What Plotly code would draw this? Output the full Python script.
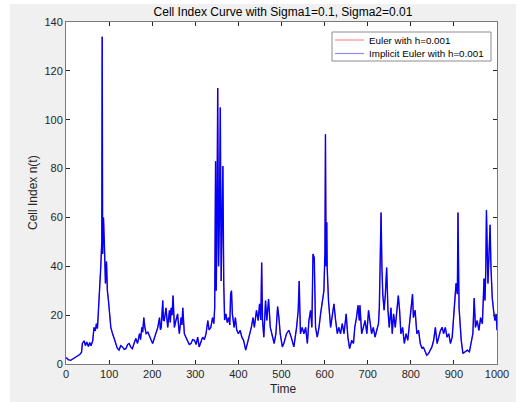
import plotly.graph_objects as go

title_text = "Cell Index Curve with Sigma1=0.1, Sigma2=0.01"
x_label = "Time"
y_label = "Cell Index n(t)"
series_names = ["Euler with h=0.001", "Implicit Euler with h=0.001"]

time = [0, 5, 11, 20, 27, 32, 36, 38, 42, 45, 48, 52, 55, 58, 62, 65, 68, 70.5, 73, 75, 78, 80.6, 83, 84, 85, 87, 89, 91.5, 94, 96, 98.5,
        101, 104, 107, 110, 113, 115.5, 119, 123, 127, 131, 135, 139, 143, 146.5, 150, 154, 158, 162, 166, 170.5, 173, 176, 178, 180.5,
        183, 186, 190, 193.7, 197, 201, 204, 207, 210, 213, 217, 219, 221, 224.5, 226, 228, 232, 234, 236, 240, 242, 244, 246, 248.4,
        250, 251.5, 255, 259, 261, 263, 267, 269, 271, 273, 274.6, 278, 282, 286, 290, 294, 298, 302, 305.5, 309, 313, 317, 321, 325,
        329, 332, 336, 340, 343, 345, 347, 348.5, 350, 352, 354, 356, 358, 360, 362, 364, 366, 368, 371, 374, 377, 380, 382, 384, 386,
        390, 393, 396, 400, 404, 408, 412, 417, 421, 426, 430, 434, 437, 442, 446, 449, 452, 454, 456, 459, 463, 466, 470, 474, 478,
        483, 487, 491, 494, 497, 502, 505.4, 511.6, 517, 522.5, 528.7, 535, 538.8, 541, 544, 548, 552, 556, 560, 563.6, 567.4, 570.5,
        573, 576, 579, 583, 587, 590.7, 594.6, 598.4, 600.8, 602, 603.5, 605, 606, 609, 614, 618, 621.7, 625.6, 629.5, 633, 637, 641,
        645, 650, 654, 658, 663, 667, 670, 674, 677.5, 680.6, 682, 686, 690, 694, 698, 702, 705, 709, 713, 717, 721, 725, 727, 729,
        731, 733, 735, 738, 741, 744, 747, 750, 754, 757, 760, 764, 767, 771, 774, 777, 781, 785, 789, 793, 797, 801, 804, 806, 810,
        814, 818, 822, 826, 829, 833, 837, 841, 845, 849, 853, 857, 861, 865, 869, 873, 876, 880, 884, 888, 892, 896, 900, 903, 905,
        908, 909.5, 912, 914, 917, 921, 926, 931, 936, 940, 944, 947, 950, 954, 958, 962, 966, 970, 972, 974, 975.5, 979, 981, 984,
        986, 989, 992, 995, 998, 1000]

cell_index = [2.7, 1.8, 1.5, 2.5, 3.2, 3.9, 4.8, 8.4, 9.5, 7.5, 9.0, 7.2, 8.8, 7.5, 9.5, 15, 13.5, 16.5, 14.5, 20.5, 28.6, 39.5, 50, 134, 45, 60, 49, 33, 42, 30, 26,
              20.5, 15, 13, 11, 9.5, 8.4, 6.5, 5.7, 7.5, 7, 6, 6.3, 8, 8.4, 7, 6.3, 8.5, 10.4, 8.4, 12.4, 10, 15, 13, 19,
              15, 12.4, 13, 11, 10, 8.4, 10, 11, 13, 15, 19, 14, 15, 26, 18, 17.8, 23, 16, 15, 22, 17, 23, 20, 28,
              18, 15, 17.8, 20.5, 16, 12.4, 19, 16, 23, 18, 12.4, 11, 9.7, 8, 8.4, 10, 9.7, 8, 11, 7, 9, 11, 10, 12.4,
              17.8, 14, 15, 19, 16.5, 23, 83, 30, 50, 113, 40, 60, 105, 34, 58, 81, 33, 18, 20.5, 17, 19, 16, 28.6, 30, 20.5,
              15, 19, 14, 12.4, 13.8, 11, 9.7, 5.7, 8.4, 12.4, 15, 19, 15, 22, 17.8, 24.6, 18, 41.5, 17.8, 11, 26, 17.8, 26.6, 15, 12.4,
              8.4, 12.4, 23.5, 19, 12.4, 7, 8.4, 12.4, 13.8, 11, 7, 15, 22, 34, 12.4, 15, 12.4, 15, 8.4, 17.8, 22, 15,
              45, 43.5, 15, 11, 15, 20.5, 26, 30, 46, 94, 40, 58, 39.5, 26, 15, 20.5, 24.6, 17.8, 12.4, 15, 12.4, 16.5,
              12.4, 20.5, 11, 6.3, 9.7, 8.4, 15, 19, 24, 17.8, 24, 12.4, 15, 17.8, 12.4, 22, 17.8, 12.4, 15, 11, 13.8, 16.5, 23, 42,
              62, 39.5, 28.6, 22, 28.6, 39.5, 22, 15, 23, 12.4, 20.5, 15, 22, 28, 22, 12.4, 15, 8.4, 12.4, 9.7, 16.5, 23, 28.6, 19, 22,
              12.4, 13.8, 8.4, 6.3, 7, 5, 3.6, 4.3, 5.7, 7, 9.7, 15, 8.4, 11, 13.8, 15, 12.4, 15, 11, 12.4, 8.4, 11, 20.5, 30, 33,
              28.6, 62, 23, 15, 9.7, 4.3, 5, 5.7, 5, 9.7, 12.4, 27, 15, 17.8, 13.8, 19, 16.5, 35, 26, 38, 63, 33, 42, 57,
              39.5, 27, 22, 17.8, 20.5, 13.8]

x_ticks = [0, 100, 200, 300, 400, 500, 600, 700, 800, 900, 1000]
y_ticks = [0, 20, 40, 60, 80, 100, 120, 140]
series_colors = ["#ff0000", "#0000ff"]
legend_line_colors = ["#ff8c8c", "#8c8cff"]

font_family = "Liberation Sans, Arial, sans-serif"
axis_color = "#262626"

fig = go.Figure()
fig.add_trace(go.Scatter(x=time, y=cell_index, mode="lines", name=series_names[0],
                         line=dict(color=series_colors[0], width=0.6), showlegend=False))
fig.add_trace(go.Scatter(x=time, y=cell_index, mode="lines", name=series_names[1],
                         line=dict(color=series_colors[1], width=1.4), showlegend=False))

L, R, T, B = 66, 30, 22, 38
W, H = 527, 402
pw, ph = W - L - R, H - T - B

def px_to_paper_x(px):
    return (px - L) / pw

def px_to_paper_y(py):
    return (H - B - py) / ph

shapes = [
    dict(type="rect", xref="paper", yref="paper", layer="above",
         x0=px_to_paper_x(0), x1=px_to_paper_x(10), y0=px_to_paper_y(H), y1=px_to_paper_y(0),
         fillcolor="white", line=dict(width=0)),
    dict(type="rect", xref="paper", yref="paper", layer="above",
         x0=px_to_paper_x(0), x1=px_to_paper_x(W), y0=px_to_paper_y(4), y1=px_to_paper_y(0),
         fillcolor="white", line=dict(width=0)),
    dict(type="rect", xref="paper", yref="paper", layer="above",
         x0=px_to_paper_x(516), x1=px_to_paper_x(W), y0=px_to_paper_y(H), y1=px_to_paper_y(0),
         fillcolor="white", line=dict(width=0)),
    # legend box
    dict(type="rect", xref="paper", yref="paper", layer="above",
         x0=px_to_paper_x(332), x1=px_to_paper_x(491), y0=px_to_paper_y(61), y1=px_to_paper_y(32),
         fillcolor="white", line=dict(color="#8c8c8c", width=1)),
]
annotations = []
legend_rows_y = [40, 53.5]
for name, col, ry in zip(series_names, legend_line_colors, legend_rows_y):
    shapes.append(dict(type="line", xref="paper", yref="paper", layer="above",
                       x0=px_to_paper_x(335), x1=px_to_paper_x(364),
                       y0=px_to_paper_y(ry), y1=px_to_paper_y(ry),
                       line=dict(color=col, width=1.2)))
    annotations.append(dict(text=name, xref="paper", yref="paper", showarrow=False,
                            x=px_to_paper_x(367), xanchor="left",
                            y=px_to_paper_y(ry), yanchor="middle",
                            font=dict(size=9.8, color="#000000", family=font_family)))

# axis titles as annotations for exact placement
annotations.append(dict(text=x_label, xref="paper", yref="paper", showarrow=False,
                        x=px_to_paper_x(283), xanchor="center", y=px_to_paper_y(389), yanchor="middle",
                        font=dict(size=12, color=axis_color, family=font_family)))
annotations.append(dict(text=y_label, xref="paper", yref="paper", showarrow=False, textangle=-90,
                        x=px_to_paper_x(33), xanchor="center", y=px_to_paper_y(193), yanchor="middle",
                        font=dict(size=12, color=axis_color, family=font_family)))

fig.update_layout(
    width=W, height=H,
    margin=dict(l=L, r=R, t=T, b=B, autoexpand=False),
    paper_bgcolor="#f0f0f0",
    plot_bgcolor="white",
    font=dict(family=font_family, size=11, color=axis_color),
    title=dict(text=title_text, x=px_to_paper_x(283), xref="paper", xanchor="center",
               y=1 - 12 / H, yanchor="middle", font=dict(size=12, color="#000000")),
    showlegend=False,
    shapes=shapes,
    annotations=annotations,
)

fig.update_xaxes(range=[0, 1000], tickvals=x_ticks, ticktext=[str(v) for v in x_ticks],
                 ticks="inside", ticklen=4, tickcolor=axis_color, showline=True, linecolor="#7a7a7a",
                 linewidth=1, mirror="ticks", showgrid=False, zeroline=False, automargin=False)
fig.update_yaxes(range=[0, 140], tickvals=y_ticks, ticktext=[str(v) for v in y_ticks],
                 ticks="inside", ticklen=4, tickcolor=axis_color, showline=True, linecolor="#7a7a7a",
                 linewidth=1, mirror="ticks", showgrid=False, zeroline=False, automargin=False)

fig.write_html("out.html")
